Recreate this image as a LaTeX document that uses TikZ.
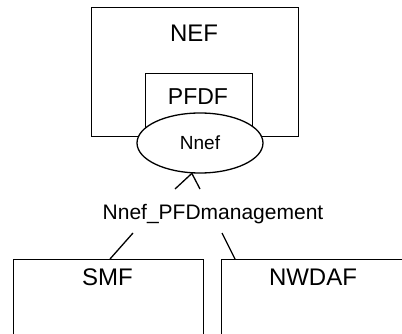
\documentclass[tikz,border=0pt]{standalone}
\usepackage{fontspec}
\setmainfont{Liberation Sans}
\usetikzlibrary{shapes.geometric}

\tikzset{
    frame/.style={draw, line width=1.3pt, fill=white, inner sep=0pt},
    biglabel/.style={font=\fontsize{24}{28}\selectfont, inner sep=0pt},
    link/.style={line width=1.3pt}
}

\begin{document}
\begin{tikzpicture}[x=1pt, y=-1pt]
    \useasboundingbox (0, 0) rectangle (402, 334);

    % NEF with PFDF inside
    \node[frame, anchor=north west, minimum width=207pt, minimum height=129pt] (nef) at (91, 7) {};
    \node[biglabel] (neflabel) at (194, 33) {NEF};
    \node[frame, anchor=north west, minimum width=107pt, minimum height=55pt] (pfdf) at (145, 73) {};
    \node[font=\fontsize{23}{27}\selectfont, inner sep=0pt] (pfdflabel) at (198, 97) {PFDF};

    % Service interface
    \node[frame, ellipse, minimum width=126pt, minimum height=60pt, font=\fontsize{19}{23}\selectfont] (nnef) at (200, 143) {Nnef};

    % Service name
    \node[font=\fontsize{21}{25}\selectfont, inner sep=0pt, anchor=base] (service) at (213, 219) {Nnef\_PFDmanagement};

    % Consumers
    \node[frame, anchor=north west, minimum width=190pt, minimum height=90pt] (smf) at (13, 259) {};
    \node[biglabel] (smflabel) at (107.5, 277) {SMF};
    \node[frame, anchor=north west, minimum width=200pt, minimum height=90pt] (nwdaf) at (221, 259) {};
    \node[biglabel] (nwdaflabel) at (313, 277) {NWDAF};

    % Line ends
    \coordinate (upleft) at (175, 189);
    \coordinate (upright) at (200, 189);
    \coordinate (downleft) at (133, 233);
    \coordinate (downright) at (222, 233);

    % Links
    \draw[link] (nnef.-105) -- (upleft);
    \draw[link] (nnef.-105) -- (upright);
    \draw[link] (downleft) -- ([xshift=97pt]smf.north west);
    \draw[link] (downright) -- ([xshift=14pt]nwdaf.north west);
\end{tikzpicture}
\end{document}
